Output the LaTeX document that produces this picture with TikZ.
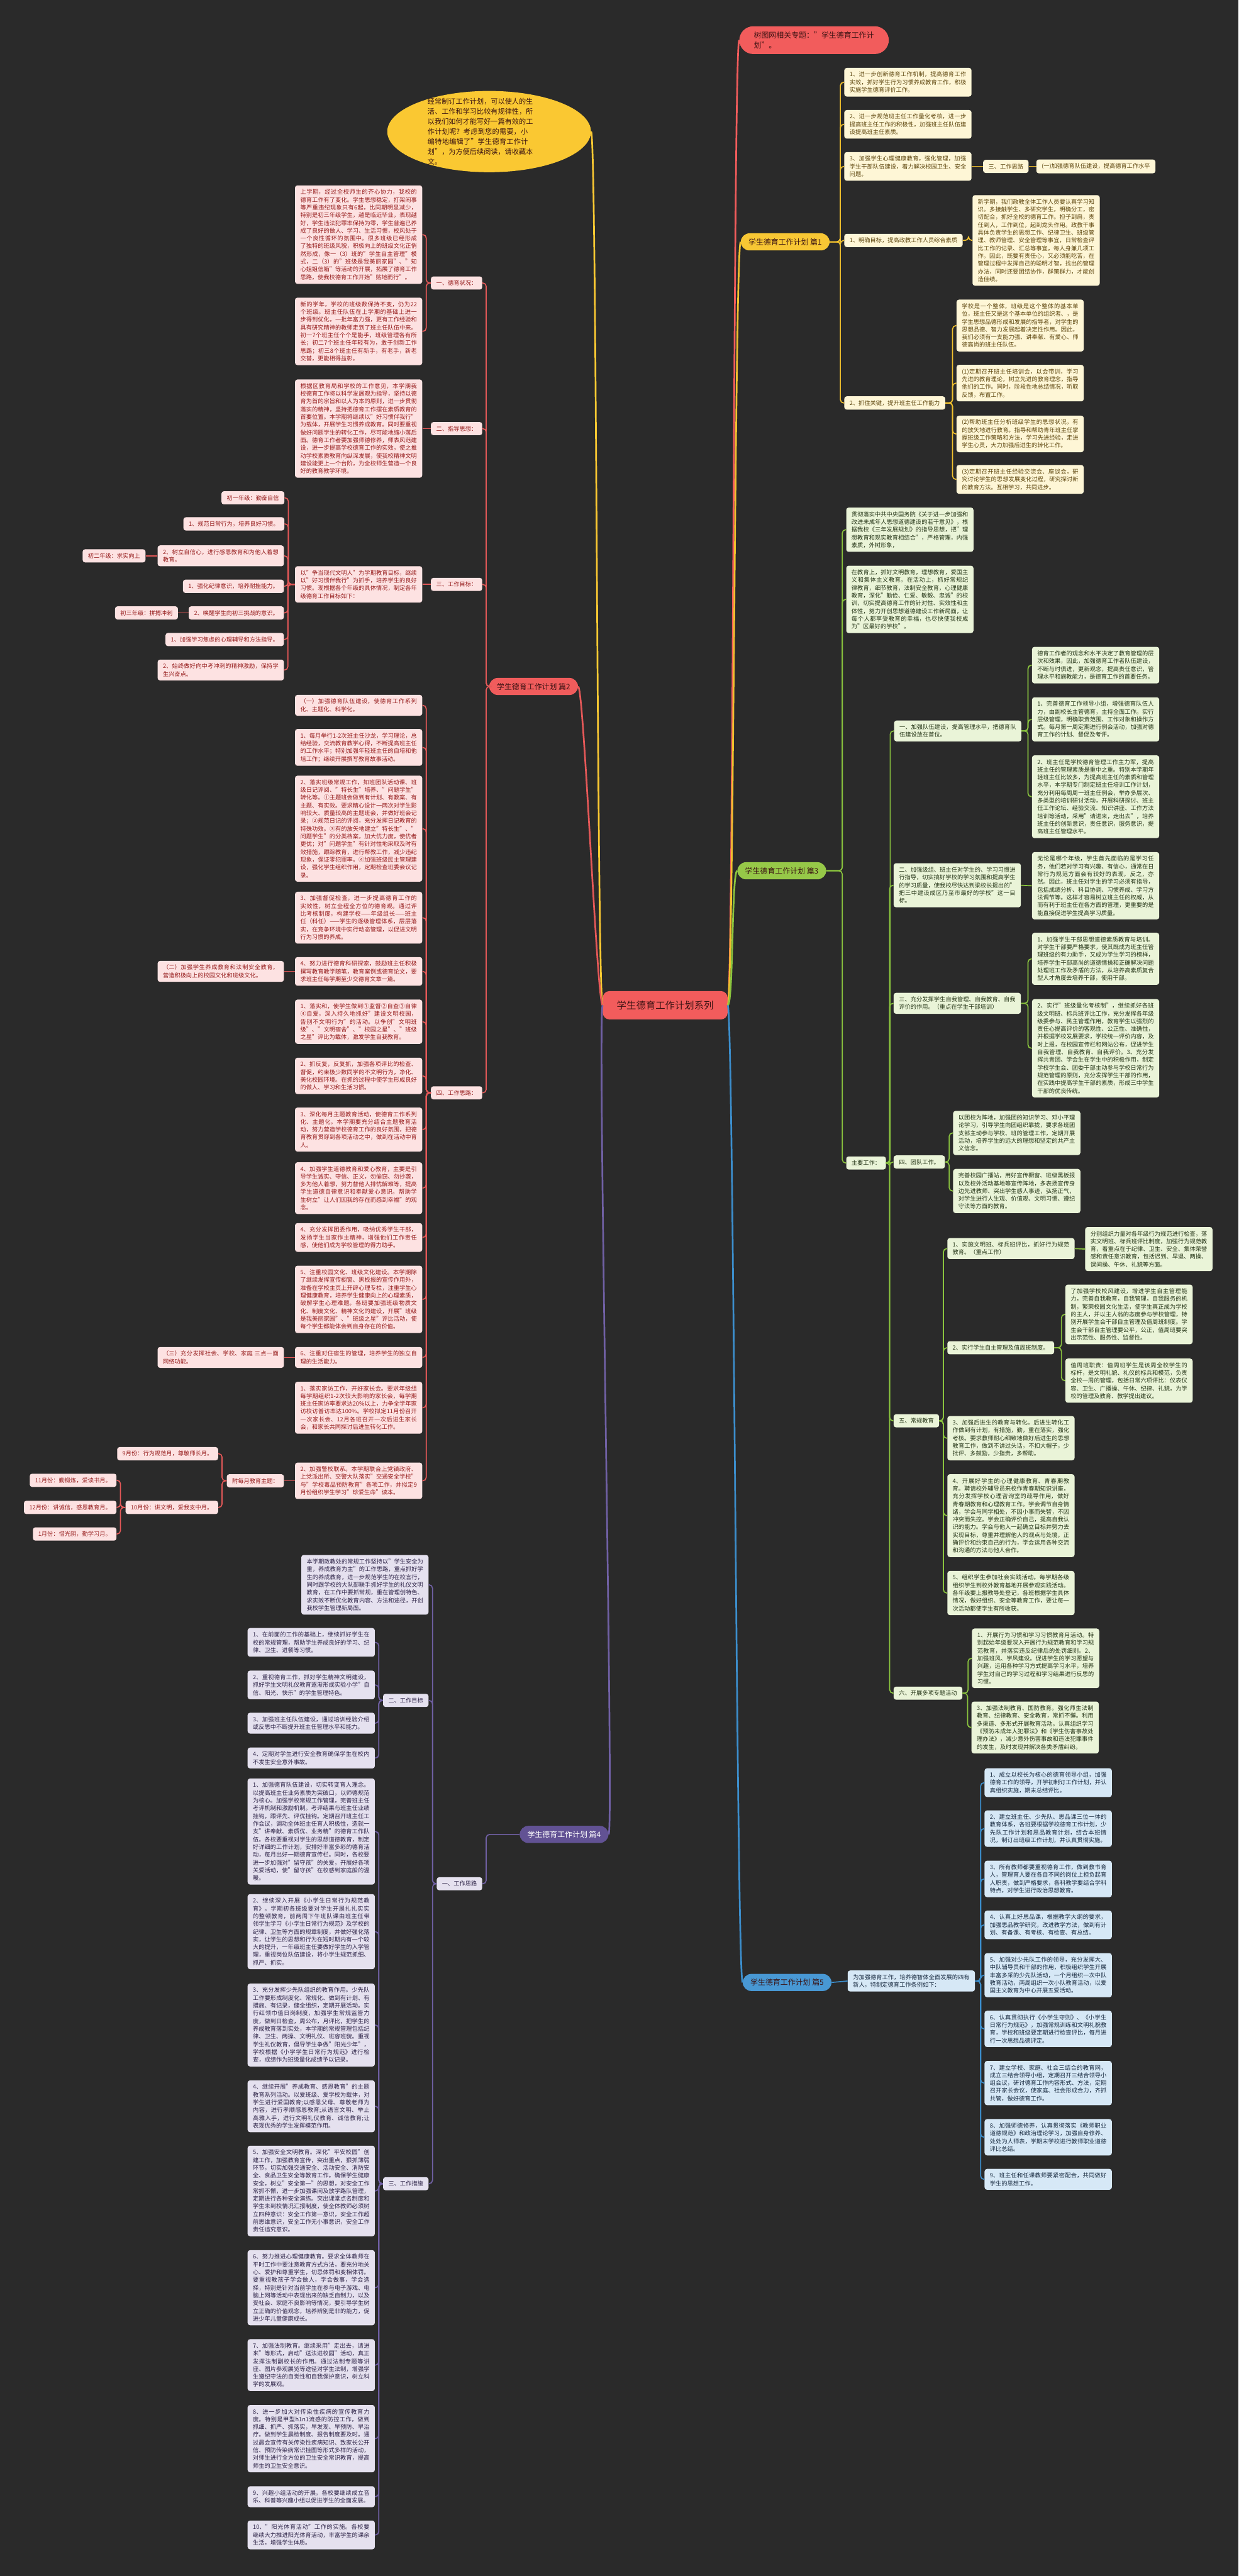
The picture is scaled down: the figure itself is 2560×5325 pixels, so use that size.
\documentclass[tikz,border=0pt]{standalone}
\usepackage{fontspec}
\setmainfont{Noto Sans CJK SC}
\XeTeXlinebreaklocale "zh"
\XeTeXlinebreakskip=0pt plus 1pt
\usetikzlibrary{shapes.geometric}

\definecolor{bgdark}{RGB}{42,42,42}
\definecolor{rootfill}{RGB}{242,92,92}
\definecolor{rootink}{RGB}{58,18,18}
\definecolor{introfill}{RGB}{250,200,50}
\definecolor{yelmain}{RGB}{248,199,52}
\definecolor{yelleaf}{RGB}{254,246,214}
\definecolor{yelink}{RGB}{92,68,12}
\definecolor{yelwire}{RGB}{240,192,46}
\definecolor{grnmain}{RGB}{150,200,72}
\definecolor{grnleaf}{RGB}{234,244,216}
\definecolor{grnink}{RGB}{36,52,22}
\definecolor{grnwire}{RGB}{138,196,62}
\definecolor{blumain}{RGB}{72,152,212}
\definecolor{bluleaf}{RGB}{214,232,246}
\definecolor{bluink}{RGB}{22,40,62}
\definecolor{bluwire}{RGB}{60,142,204}
\definecolor{redmain}{RGB}{240,92,92}
\definecolor{redleaf}{RGB}{253,226,226}
\definecolor{redink}{RGB}{150,28,28}
\definecolor{redwire}{RGB}{228,88,88}
\definecolor{purmain}{RGB}{98,82,148}
\definecolor{purleaf}{RGB}{229,225,239}
\definecolor{purink}{RGB}{46,36,72}
\definecolor{purwire}{RGB}{112,96,164}

\newcommand\fsz[2]{\fontsize{#1}{#2}\selectfont}

\begin{document}
\begin{tikzpicture}[x=1pt,y=-1pt,
  every node/.style={font=\fsz{12}{16}},
  root node/.style={rectangle,rounded corners=14pt,fill=rootfill,text=rootink,font=\fsz{20}{24},inner xsep=29pt,inner ysep=20pt},
  main node/.style={rectangle,rounded corners=18pt,text=rootink,font=\fsz{15.5}{20},inner xsep=16pt,inner ysep=10.5pt},
  leaf node/.style={rectangle,rounded corners=5pt,text width=241pt,align=justify,inner xsep=11pt,inner ysep=8pt},
  tag node/.style={rectangle,rounded corners=5pt,inner xsep=11pt,inner ysep=8pt},
  yelbox/.style={fill=yelleaf,text=yelink},
  grnbox/.style={fill=grnleaf,text=grnink},
  blubox/.style={fill=bluleaf,text=bluink},
  redbox/.style={fill=redleaf,text=redink},
  purbox/.style={fill=purleaf,text=purink},
  link/.style={line width=2.2pt,rounded corners=7pt},
  branch/.style={line width=3.5pt}]

  \fill[bgdark] (0,0) rectangle (2560,5325);
  \useasboundingbox (0,0) rectangle (2560,5325);

  % centre
  \node[root node] (root) at (1375,2078) {学生德育工作计划系列};

  % right side
  \node[main node,fill=rootfill,anchor=west,text width=249pt,inner xsep=30pt,inner ysep=11pt,rounded corners=29pt,font=\fsz{15.5}{21}] (tsw) at (1528,83) {树图网相关专题："学生德育工作计划"。};

  %% 篇1
  \node[main node,fill=yelmain,anchor=west] (p1) at (1531,500) {学生德育工作计划 篇1};
  \node[leaf node,yelbox,anchor=west] (pa1) at (1745,170) {1、进一步创新德育工作机制，提高德育工作实效，抓好学生行为习惯养成教育工作，积极实施学生德育评价工作。};
  \node[leaf node,yelbox,anchor=west] (pa2) at (1745,257) {2、进一步规范班主任工作量化考核，进一步提高班主任工作的积极性，加强班主任队伍建设提高班主任素质。};
  \node[leaf node,yelbox,anchor=west] (pa3) at (1745,344) {3、加强学生心理健康教育，强化管理，加强学生干部队伍建设，着力解决校园卫生、安全问题。};
  \node[tag node,yelbox,anchor=west] (pa3a) at (2032,344) {三、工作思路};
  \node[tag node,yelbox,anchor=west] (pa3b) at (2142,344) {(一)加强德育队伍建设，提高德育工作水平};
  \node[tag node,yelbox,anchor=west] (pa4) at (1745,497) {1、明确目标，提高政教工作人员综合素质};
  \node[leaf node,yelbox,anchor=west] (pa4a) at (2010,497) {新学期，我们政教全体工作人员要认真学习知识。多接触学生、多研究学生，明确分工，密切配合，抓好全校的德育工作。担子到肩，责任到人，工作到位，起到龙头作用。政教干事具体负责学生的思想工作、纪律卫生、班级管理、教师管理、安全管理等事宜，日常检查评比工作的记录、汇总等事宜，每人身兼几项工作。因此，既要有责任心，又必须能吃苦，在管理过程中发挥自己的聪明才智，找出的管理办法，同时还要团结协作，群策群力，才能创造佳绩。};
  \node[tag node,yelbox,anchor=west] (pa5) at (1745,833) {2、抓住关键，提升班主任工作能力};
  \node[leaf node,yelbox,anchor=west] (pa5a) at (1977,673) {学校是一个整体，班级是这个整体的基本单位，班主任又是这个基本单位的组织者、，是学生思想品德形成和发展的指导者，对学生的思想品德、智力发展起着决定性作用。因此，我们必须有一支能力强、讲奉献、有爱心、师德高尚的班主任队伍。};
  \node[leaf node,yelbox,anchor=west] (pa5b) at (1977,792) {(1)定期召开班主任培训会，以会带训，学习先进的教育理论，树立先进的教育理念，指导他们的工作。同时，阶段性地总结情况，听取反馈，布置工作。};
  \node[leaf node,yelbox,anchor=west] (pa5c) at (1977,897) {(2)帮助班主任分析班级学生的思想状况，有的放矢地进行教育。指导和帮助青年班主任掌握班级工作策略和方法，学习先进经验，走进学生心灵，大力加强后进生的转化工作。};
  \node[leaf node,yelbox,anchor=west] (pa5d) at (1977,991) {(3)定期召开班主任经验交流会、座谈会，研究讨论学生的思想发展变化过程，研究探讨新的教育方法。互相学习，共同进步。};

  %% 篇3
  \node[main node,fill=grnmain,anchor=west] (p3) at (1524,1800) {学生德育工作计划 篇3};
  \node[leaf node,grnbox,anchor=west] (pc1) at (1749,1095) {贯彻落实中共中央国务院《关于进一步加强和改进未成年人思想道德建设的若干意见》，根据我校《三年发展规划》的指导思想，把"理想教育和现实教育相结合"，严格管理，内强素质，外树形象，};
  \node[leaf node,grnbox,anchor=west] (pc2) at (1749,1239) {在教育上，抓好文明教育，理想教育，爱国主义和集体主义教育。在活动上，抓好常规纪律教育，细节教育，法制安全教育，心理健康教育，深化"勤俭、仁爱、敏毅、忠诚"的校训，切实提高德育工作的针对性、实效性和主体性，努力开创思想道德建设工作新局面，让每个人都享受教育的幸福，也尽快使我校成为"区最好的学校"。};
  \node[tag node,grnbox,anchor=west] (pcm) at (1749,2404) {主要工作：};
  \node[leaf node,grnbox,anchor=west] (pc3) at (1848,1511) {一、加强队伍建设，提高管理水平，把德育队伍建设放在首位。};
  \node[leaf node,grnbox,anchor=west] (pc3a) at (2133,1375) {德育工作者的观念和水平决定了教育管理的层次和效果，因此，加强德育工作者队伍建设，不断与时俱进，更新观念，提高责任意识，管理水平和施教能力，是德育工作的首要任务。};
  \node[leaf node,grnbox,anchor=west] (pc3b) at (2133,1487) {1、完善德育工作领导小组，增强德育队伍人力，由副校长主管德育，主持全面工作。实行层级管理，明确职责范围、工作对象和操作方式。每月第一周定期进行例会活动，加强对德育工作的计划、督促及考评。};
  \node[leaf node,grnbox,anchor=west] (pc3c) at (2133,1647) {2、班主任是学校德育管理工作主力军，提高班主任的管理素质是重中之重。特别本学期年轻班主任比较多，为提高班主任的素质和管理水平，本学期专门制定班主任培训工作计划，充分利用每周周一班主任例会，举办多层次、多类型的培训研讨活动，开展科研探讨、班主任工作论坛、经验交流、知识讲座、工作方法培训等活动，采用"请进来，走出去"，培养班主任的创新意识，责任意识，服务意识，提高班主任管理水平。};
  \node[leaf node,grnbox,anchor=west] (pc4) at (1847,1830) {二、加强级组、班主任对学生的、学习习惯进行指导，切实搞好学校的学习氛围和提高学生的学习质量，使我校尽快达到梁校长提出的"把三中建设成区乃至市最好的学校"这一目标。};
  \node[leaf node,grnbox,anchor=west] (pc4a) at (2133,1831) {无论是哪个年级，学生首先面临的是学习任务，他们若对学习有兴趣、有信心，通常在日常行为规范方面会有较好的表现，反之，亦然。因此，班主任对学生的学习必须有指导，包括成绩分析、科目协调、习惯养成、学习方法调节等。这样才容易树立班主任的权威，从而有利于班主任在各方面的管理，更重要的是能直接促进学生提高学习质量。};
  \node[leaf node,grnbox,anchor=west] (pc5) at (1847,2074) {三、充分发挥学生自我管理、自我教育、自我评价的作用。（重点在学生干部培训）};
  \node[leaf node,grnbox,anchor=west] (pc5a) at (2133,1982) {1、加强学生干部思想道德素质教育与培训。对学生干部要严格要求，使其既成为班主任管理班级的有力助手，又成为学生学习的榜样，培养学生干部高尚的道德情操和正确解决问题处理班工作及矛盾的方法，从培养高素质复合型人才角度去培养干部，使用干部。};
  \node[leaf node,grnbox,anchor=west] (pc5b) at (2133,2167) {2、实行"班级量化考核制"，继续抓好各班级文明班、标兵班评比工作，充分发挥各年级级委参与、民主管理作用，教育学生以强烈的责任心提高评价的客观性、公正性、准确性，并根据学校发展要求，学校统一评价内容，及时上报，在校园宣传栏和网站公布，促进学生自我管理、自我教育、自我评价。3、充分发挥共青团、学会生在学生中的积极作用，制定学校学生会、团委干部主动参与学校日常行为规范管理的原则，充分发挥学生干部的作用，在实践中提高学生干部的素质，形成三中学生干部的优良传统。};
  \node[tag node,grnbox,anchor=west] (pc6) at (1847,2402) {四、团队工作。};
  \node[leaf node,grnbox,anchor=west] (pc6a) at (1970,2342) {以团校为阵地，加强团的知识学习、邓小平理论学习，引导学生向团组织靠拢，要求各班团支部主动参与学校、班的管理工作，定期开展活动，培养学生的远大的理想和坚定的共产主义信念。};
  \node[leaf node,grnbox,anchor=west] (pc6b) at (1970,2462) {完善校园广播站，用好宣传橱窗、班级黑板报以及校外活动基地等宣传阵地，多表扬宣传身边先进教师、突出学生感人事迹，弘扬正气，对学生进行人生观、价值观、文明习惯、遵纪守法等方面的教育。};
  \node[tag node,grnbox,anchor=west] (pc7) at (1847,2937) {五、常规教育};
  \node[leaf node,grnbox,anchor=west] (pc7a) at (1958,2581) {1、实施文明班、标兵班评比，抓好行为规范教育。（重点工作）};
  \node[leaf node,grnbox,anchor=west] (pc7a1) at (2243,2582) {分别组织力量对各年级行为规范进行检查，落实文明班、标兵班评比制度，加强行为规范教育，着重点在于纪律、卫生、安全、集体荣誉感和责任意识教育，包括迟到、早退、两操、课间操、午休、礼貌等方面。};
  \node[tag node,grnbox,anchor=west] (pc7b) at (1958,2786) {2、实行学生自主管理及值周班制度。};
  \node[leaf node,grnbox,anchor=west] (pc7b1) at (2202,2717) {了加强学校校风建设，增进学生自主管理能力，完善自我教育，自我管理，自我服务的机制，繁荣校园文化生活，使学生真正成为学校的主人，并以主人翁的态度参与学校管理，特别开展学生会干部自主管理及值周班制度。学生会干部自主管理要公平，公正，值周班要突出示范性、服务性、监督性。};
  \node[leaf node,grnbox,anchor=west] (pc7b2) at (2202,2854) {值周班职责：值周班学生是该周全校学生的标杆，是文明礼貌、礼仪的标兵和模范，负责全校一周的管理，包括日常六项评比：仪表仪容、卫生、广播操、午休、纪律、礼貌，为学校的管理及教育、教学提出建议。};
  \node[leaf node,grnbox,anchor=west] (pc7c) at (1958,2973) {3、加强后进生的教育与转化。后进生转化工作做到有计划，有措施，勤，重在落实，强化考核。要求教师耐心细致地做好后进生的思想教育工作，做到不讲过头话，不扣大帽子，少批评、多鼓励，少指责，多帮助。};
  \node[leaf node,grnbox,anchor=west] (pc7d) at (1958,3133) {4、开展好学生的心理健康教育、青春期教育。聘请校外辅导员来校作青春期知识讲座，充分发挥学校心理咨询室的疏导作用，做好青春期教育和心理教育工作。学会调节自身情绪，学会与同学相处，不因小事而失智，不因冲突而失控。学会正确评价自己，提高自我认识的能力。学会与他人一起确立目标并努力去实现目标，尊重并理解他人的观点与处境，正确评价和约束自己的行为，学会运用各种交流和沟通的方法与他人合作。};
  \node[leaf node,grnbox,anchor=west] (pc7e) at (1958,3293) {5、组织学生参加社会实践活动。每学期各级组织学生到校外教育基地开展参观实践活动。各年级要上报教导处登记，各班根据学生具体情况，做好组织、安全等教育工作，要让每一次活动都使学生有所收获。};
  \node[tag node,grnbox,anchor=west] (pc8) at (1847,3500) {六、开展多项专题活动};
  \node[leaf node,grnbox,anchor=west] (pc8a) at (2009,3428) {1、开展行为习惯和学习习惯教育月活动。特别起始年级要深入开展行为规范教育和学习规范教育，并落实违反纪律后的处罚细则。2、加强班风、学风建设。促进学生的学习愿望与兴趣，运用各种学习方式提高学习水平，培养学生对自己的学习过程和学习结果进行反思的习惯。};
  \node[leaf node,grnbox,anchor=west] (pc8b) at (2008,3571) {3、加强法制教育、国防教育。强化师生法制教育、纪律教育、安全教育，常抓不懈。利用多渠道、多形式开展教育活动。认真组织学习《预防未成年人犯罪法》和《学生伤害事故处理办法》，减少意外伤害事故和违法犯罪事件的发生，及时发现并解决各类矛盾纠纷。};

  %% 篇5
  \node[main node,fill=blumain,anchor=west] (p5) at (1535,4098) {学生德育工作计划 篇5};
  \node[leaf node,blubox,anchor=west] (pd0) at (1752,4095) {为加强德育工作，培养德智体全面发展的四有新人，特制定德育工作条例如下：};
  \node[leaf node,blubox,anchor=west] (pd1) at (2035,3685) {1、成立以校长为核心的德育领导小组，加强德育工作的领导，开学初制订工作计划，并认真组织实施，期末总结评比。};
  \node[leaf node,blubox,anchor=west] (pd2) at (2035,3780) {2、建立班主任、少先队、思品课三位一体的教育体系，各班要根据学校德育工作计划，少先队工作计划和思品教育计划，结合本班情况，制订出班级工作计划，并认真贯彻实施。};
  \node[leaf node,blubox,anchor=west] (pd3) at (2035,3884) {3、所有教师都要重视德育工作，做到教书育人，管理育人要在各自不同的岗位上担负起育人职责，做到严格要求，各科教学要结合学科特点，对学生进行政治思想教育。};
  \node[leaf node,blubox,anchor=west] (pd4) at (2035,3979) {4、认真上好思品课，根据教学大纲的要求，加强思品教学研究，改进教学方法，做到有计划、有备课、有考核、有检查、有总结。};
  \node[leaf node,blubox,anchor=west] (pd5) at (2035,4083) {5、加强对少先队工作的领导，充分发挥大、中队辅导员和干部的作用，积极组织学生开展丰富多采的少先队活动，一个月组织一次中队教育活动，两周组织一次小队教育活动，以爱国主义教育为中心开展五爱活动。};
  \node[leaf node,blubox,anchor=west] (pd6) at (2035,4194) {6、认真贯彻执行《小学生守则》、《小学生日常行为规范》，加强常规训练和文明礼貌教育，学校和班级要定期进行检查评比，每月进行一次思想品德评定。};
  \node[leaf node,blubox,anchor=west] (pd7) at (2035,4306) {7、建立学校、家庭、社会三结合的教育网，成立三结合领导小组，定期召开三结合领导小组会议，研讨德育工作内容形式、方法，定期召开家长会议，使家庭、社会形成合力，齐抓共管，做好德育工作。};
  \node[leaf node,blubox,anchor=west] (pd8) at (2035,4418) {8、加强师德修养，认真贯彻落实《教师职业道德规范》和政治理论学习，加强自身修养、处处为人师表，学期末学校进行教师职业道德评比总结。};
  \node[leaf node,blubox,anchor=west] (pd9) at (2035,4505) {9、班主任和任课教师要紧密配合，共同做好学生的思想工作。};

  % left side
  \node[ellipse,fill=introfill,minimum width=421pt,minimum height=168pt,inner sep=0pt] (intro) at (1011,272) {};
  \node[text width=218pt,align=left,text=rootink,font=\fsz{14.5}{21}] (introtxt) at (993,272) {经常制订工作计划，可以使人的生活、工作和学习比较有规律性，所以我们如何才能写好一篇有效的工作计划呢？考虑到您的需要，小编特地编辑了"学生德育工作计划"，为方便后续阅读，请收藏本文。};

  %% 篇2
  \node[main node,fill=redmain,anchor=east] (p2) at (1195,1419) {学生德育工作计划 篇2};
  \node[tag node,redbox,anchor=east] (f1) at (997,585) {一、德育状况：};
  \node[leaf node,redbox,anchor=east] (f1a) at (873,485) {上学期，经过全校师生的齐心协力，我校的德育工作有了变化。学生思想稳定，打架闹事等严重违纪现象只有6起，比同期明显减少，特别是初三年级学生，越是临近毕业，表现越好，学生违法犯罪率保持为零，学生普遍已养成了良好的做人、学习、生活习惯，校风处于一个良性循环的氛围中。很多班级已经形成了独特的班级风貌，积极向上的班级文化正悄然形成，像一（3）班的"学生自主管理"模式，二（3）的"班级是我美丽家园"、"知心姐姐信箱"等活动的开展，拓展了德育工作思路，使我校德育工作开始"贴地而行"。};
  \node[leaf node,redbox,anchor=east] (f1b) at (873,685) {新的学年，学校的班级数保持不变，仍为22个班级。班主任队伍在上学期的基础上进一步得到优化，一批年富力强，更有工作经验和具有研究精神的教师走到了班主任队伍中来。初一7个班主任个个是能手，班级管理各有所长；初二7个班主任年轻有为，敢于创新工作思路；初三8个班主任有新手，有老手，新老交替，更能相得益彰。};
  \node[tag node,redbox,anchor=east] (f2) at (997,886) {二、指导思想：};
  \node[leaf node,redbox,anchor=east] (f2a) at (873,886) {根据区教育局和学校的工作意见，本学期我校德育工作将以科学发展观为指导，坚持以德育为首的宗旨和以人为本的原则，进一步贯彻落实的精神，坚持把德育工作摆在素质教育的首要位置。本学期将继续以"好习惯伴我行"为载体，开展学生习惯养成教育。同时要重视做好问题学生的转化工作，尽可能地缩小落后面。德育工作者要加强师德修养，师表风范建设，进一步提高学校德育工作的实效，使之推动学校素质教育向纵深发展，使我校精神文明建设能更上一个台阶，为全校师生营造一个良好的教育教学环境。};
  \node[tag node,redbox,anchor=east] (f3) at (997,1208) {三、工作目标：};
  \node[leaf node,redbox,anchor=east] (f3a) at (873,1208) {以"争当现代文明人"为学期教育目标，继续以"好习惯伴我行"为抓手，培养学生的良好习惯。现根据各个年级的具体情况，制定各年级德育工作目标如下：};
  \node[tag node,redbox,anchor=east] (g1) at (588,1029) {初一年级：勤奋自信};
  \node[tag node,redbox,anchor=east] (g2) at (588,1083) {1、规范日常行为，培养良好习惯。};
  \node[leaf node,redbox,anchor=east,text width=239pt] (g3) at (587,1149) {2、树立自信心，进行感恩教育和为他人着想教育。};
  \node[tag node,redbox,anchor=east] (g3a) at (301,1149) {初二年级：求实向上};
  \node[tag node,redbox,anchor=east] (g4) at (587,1212) {1、强化纪律意识，培养耐挫能力。};
  \node[tag node,redbox,anchor=east] (g5) at (587,1267) {2、唤醒学生向初三挑战的意识。};
  \node[tag node,redbox,anchor=east] (g5a) at (368,1267) {初三年级：拼搏冲刺};
  \node[tag node,redbox,anchor=east] (g6) at (587,1322) {1、加强学习焦虑的心理辅导和方法指导。};
  \node[leaf node,redbox,anchor=east,text width=239pt] (g7) at (587,1385) {2、始终做好向中考冲刺的精神激励，保持学生兴奋点。};
  \node[tag node,redbox,anchor=east] (f4) at (997,2259) {四、工作思路：};
  \node[leaf node,redbox,anchor=east] (fs1) at (873,1458) {（一）加强德育队伍建设，使德育工作系列化、主题化、科学化。};
  \node[leaf node,redbox,anchor=east] (fs2) at (873,1545) {1、每月举行1-2次班主任沙龙，学习理论，总结经验，交流教育教学心得，不断提高班主任的工作水平；特别加强年轻班主任的自培和他培工作；继续开展撰写教育故事活动。};
  \node[leaf node,redbox,anchor=east] (fs3) at (873,1713) {2、落实班级常规工作，如班团队活动课、班级日记评阅、"特长生"培养、"问题学生"转化等。①主题班会做到有计划、有教案、有主题、有实效。要求精心设计一两次对学生影响较大、质量较高的主题班会，并做好班会记录；②规范日记的评阅，充分发挥日记教育的特殊功效。③有的放矢地建立"特长生"、"问题学生"的分类档案，加大优力度，使优者更优；对"问题学生"有针对性地采取及时有效措施，跟踪教育，进行帮教工作，减少违纪现象，保证零犯罪率。④加强班级民主管理建设，强化学生组织作用，定期检查班委会议记录。};
  \node[leaf node,redbox,anchor=east] (fs4) at (873,1897) {3、加强督促检查，进一步提高德育工作的实效性，树立全程全方位的德育观。通过评比考核制度，构建学校——年级组长——班主任（科任）——学生的逐级管理体系，层层落实，在竞争环境中实行动态管理，以促进文明行为习惯的养成。};
  \node[leaf node,redbox,anchor=east] (fs5) at (873,2008) {4、努力进行德育科研探索，鼓励班主任积极撰写教育教学随笔，教育案例或德育论文，要求班主任每学期至少交德育文章一篇。};
  \node[leaf node,redbox,anchor=east,text width=239pt] (fs5a) at (587,2008) {（二）加强学生养成教育和法制安全教育，营造积极向上的校园文化和班级文化。};
  \node[leaf node,redbox,anchor=east] (fs6) at (873,2112) {1、落实和，使学生做到①监督②自查③自律④自爱，深入持久地抓好"建设文明校园，告别不文明行为"的活动。以争创"文明班级"、"文明宿舍"、"校园之星"、"班级之星"评比为载体，激发学生自我教育。};
  \node[leaf node,redbox,anchor=east] (fs7) at (873,2224) {2、抓反复，反复抓，加强各项评比的检查、督促，约束极少数同学的不文明行为，净化、美化校园环境。在抓的过程中使学生形成良好的做人、学习和生活习惯。};
  \node[leaf node,redbox,anchor=east] (fs8) at (873,2335) {3、深化每月主题教育活动，使德育工作系列化、主题化。本学期要充分结合主题教育活动，努力营造学校德育工作的良好氛围，把德育教育贯穿到各项活动之中，做到在活动中育人。};
  \node[leaf node,redbox,anchor=east] (fs9) at (873,2456) {4、加强学生道德教育和爱心教育，主要是引导学生诚实、守信、正义，勿偷窃、勿抄袭，多为他人着想，努力替他人排忧解难等，提高学生道德自律意识和奉献爱心意识。帮助学生树立"让人们因我的存在而感到幸福"的观念。};
  \node[leaf node,redbox,anchor=east] (fs10) at (873,2558) {4、充分发挥团委作用，吸纳优秀学生干部，发扬学生当家作主精神，增强他们工作责任感，使他们成为学校管理的得力助手。};
  \node[leaf node,redbox,anchor=east] (fs11) at (873,2686) {5、注重校园文化、班级文化建设。本学期除了继续发挥宣传橱窗、黑板报的宣传作用外，准备在学校主页上开辟心理专栏，注重学生心理健康教育，培养学生健康向上的心理素质，破解学生心理难题。各班要加强班级物质文化、制度文化、精神文化的建设，开展"班级是我美丽家园"、"班级之星"评比活动，使每个学生都能体会到自身存在的价值。};
  \node[leaf node,redbox,anchor=east] (fs12) at (873,2806) {6、注重对住宿生的管理，培养学生的独立自理的生活能力。};
  \node[leaf node,redbox,anchor=east,text width=239pt] (fs12a) at (587,2806) {（三）充分发挥社会、学校、家庭 三点一面网络功能。};
  \node[leaf node,redbox,anchor=east] (fs13) at (873,2910) {1、落实家访工作，开好家长会。要求年级组每学期组织1-2次较大影响的家长会，每学期班主任家访率要求达20\%以上，力争全学年家访校访普访率达100\%。学校拟定11月份召开一次家长会、12月各班召开一次后进生家长会，和家长共同探讨后进生转化工作。};
  \node[leaf node,redbox,anchor=east] (fs14) at (873,3061) {2、加强警校联系。本学期联合上党镇政府、上党派出所、交警大队落实"交通安全学校"与"学校毒品预防教育"各项工作，并拟定9月份组织学生学习"珍爱生命"读本。};
  \node[tag node,redbox,anchor=east] (fs14a) at (587,3061) {附每月教育主题：};
  \node[tag node,redbox,anchor=east] (m9) at (451,3005) {9月份：行为规范月，尊敬师长月。};
  \node[tag node,redbox,anchor=east] (m10) at (451,3116) {10月份：讲文明，爱我支中月。};
  \node[tag node,redbox,anchor=east] (m11) at (241,3060) {11月份：勤锻炼，爱读书月。};
  \node[tag node,redbox,anchor=east] (m12) at (241,3116) {12月份：讲诚信，感恩教育月。};
  \node[tag node,redbox,anchor=east] (m1) at (241,3171) {1月份：惜光阴，勤学习月。};

  %% 篇4
  \node[main node,fill=purmain,text=white,anchor=east] (p4) at (1258,3792) {学生德育工作计划 篇4};
  \node[tag node,purbox,anchor=east] (q0) at (997,3894) {一、工作思路};
  \node[leaf node,purbox,anchor=east] (q1) at (886,3276) {本学期政教处的常规工作坚持以"学生安全为重，养成教育为主"的工作思路，重点抓好学生的养成教育，进一步规范学生的在校言行，同时跟学校的大队部联手抓好学生的礼仪文明教育，在工作中要抓常规，重在管理创特色、求实效不断优化教育内容、方法和途径，开创我校学生管理新局面。};
  \node[tag node,purbox,anchor=east] (q2) at (886,3515) {二、工作目标};
  \node[leaf node,purbox,anchor=east] (q2a) at (775,3395) {1、在前面的工作的基础上，继续抓好学生在校的常规管理，帮助学生养成良好的学习、纪律、卫生、进餐等习惯。};
  \node[leaf node,purbox,anchor=east] (q2b) at (775,3483) {2、重视德育工作，抓好学生精神文明建设，抓好学生文明礼仪教育逐渐形成实验小学"自信、阳光、快乐"的学生管理特色。};
  \node[leaf node,purbox,anchor=east] (q2c) at (775,3562) {3、加强班主任队伍建设，通过培训经验介绍或反思中不断提升班主任管理水平和能力。};
  \node[leaf node,purbox,anchor=east] (q2d) at (775,3634) {4、定期对学生进行安全教育确保学生在校内不发生安全意外事故。};
  \node[tag node,purbox,anchor=east] (q3) at (886,4514) {三、工作措施};
  \node[leaf node,purbox,anchor=east] (q3a) at (775,3786) {1、加强德育队伍建设，切实转变育人理念。以提高班主任业务素质为突破口，以师德规范为核心。加强学校常规工作管理，完善班主任考评机制和激励机制。考评结果与班主任业绩挂钩，跟评先、评优挂钩。定期召开班主任工作会议，调动全体班主任育人积极性，造就一支"讲奉献、素质优、业务精"的德育工作队伍。各校要重视对学生的思想道德教育，制定好详细的工作计划，安排好丰富多彩的德育活动，每月出好一期德育宣传栏。同时，各校要进一步加强对"留守孩"的关爱，开展好各项关爱活动，使"留守孩"在校感到家庭般的温暖。};
  \node[leaf node,purbox,anchor=east] (q3b) at (775,3993) {2、继续深入开展《小学生日常行为规范教育》。学期初各班级要对学生开展扎扎实实的整顿教育，前两周下午班队课由班主任带领学生学习《小学生日常行为规范》及学校的纪律、卫生等方面的规章制度，并做好强化落实，让学生的思想和行为在短时期内有一个较大的提升，一年级班主任要做好学生的入学管理，重视岗位队伍建设，将小学生规范抓细、抓严、抓实。};
  \node[leaf node,purbox,anchor=east] (q3c) at (775,4186) {3、充分发挥少先队组织的教育作用。少先队工作要形成制度化、常规化、做到有计划、有措施、有记录，健全组织，定期开展活动。实行红领巾值日岗制度，加强学生常规监管力度，做到日检查，周公布，月评比，把学生的养成教育落到实处，本学期的常规管理包括纪律、卫生、两操、文明礼仪、班容班貌。重视学生礼仪教育，倡导学生争做"阳光少年"，学校根据《小学学生日常行为规范》进行检查，成绩作为班级量化成绩予以记录。};
  \node[leaf node,purbox,anchor=east] (q3d) at (775,4354) {4、继续开展"养成教育、感恩教育"的主题教育系列活动。以爱班级、爱学校为载体，对学生进行爱国教育;以感恩父母、尊敬老师为内容，进行孝顺感恩教育;从语言文明、举止高雅入手，进行文明礼仪教育、诚信教育;让表现优秀的学生发挥模范作用。};
  \node[leaf node,purbox,anchor=east] (q3e) at (775,4529) {5、加强安全文明教育。深化"平安校园"创建工作，加强教育宣传，突出重点，狠抓薄弱环节，切实加强交通安全、活动安全、消防安全、食品卫生安全等教育工作。确保学生健康安全，树立"安全第一"的思想，对安全工作常抓不懈，进一步加强课间及放学路队管理，定期进行各种安全演练。突出课堂点名制度和学生未到校情况汇报制度，使全体教师必须树立四种意识：安全工作第一意识，安全工作超前思维意识，安全工作无小事意识，安全工作责任追究意识。};
  \node[leaf node,purbox,anchor=east] (q3f) at (775,4729) {6、努力推进心理健康教育。要求全体教师在平时工作中要注意教育方式方法，要充分地关心、爱护和尊重学生，切忌体罚和变相体罚。要重视教孩子学会做人，学会做事，学会选择，特别是针对当前学生在参与电子游戏、电脑上网等活动中表现出来的缺乏自制力，以及受社会、家庭不良影响等情况，要引导学生树立正确的价值观念，培养辨别是非的能力，促进少年儿童健康成长。};
  \node[leaf node,purbox,anchor=east] (q3g) at (775,4889) {7、加强法制教育。继续采用"走出去，请进来"等形式，启动"送法进校园"活动，真正发挥法制副校长的作用。通过法制专题等讲座、图片参观展览等途径对学生法制，增强学生遵纪守法的自觉性和自我保护意识，树立科学的发展观。};
  \node[leaf node,purbox,anchor=east] (q3h) at (775,5041) {8、进一步加大对传染性疾病的宣传教育力度。特别是甲型h1n1流感的防控工作，做到抓细、抓严、抓落实，早发现、早预防、早治疗。做到学生晨检制度、报告制度要及时。通过晨会宣传有关传染性疾病知识、致家长公开信、预防传染病常识挂图等形式多样的活动，对师生进行全方位的卫生安全常识教育，提高师生的卫生安全意识。};
  \node[leaf node,purbox,anchor=east] (q3i) at (775,5161) {9、兴趣小组活动的开展。各校要继续成立音乐、科普等兴趣小组以促进学生的全面发展。};
  \node[leaf node,purbox,anchor=east] (q3j) at (775,5240) {10、"阳光体育活动"工作的实施。各校要继续大力推进阳光体育活动，丰富学生的课余生活，增强学生体质。};

  % main branches
  \draw[branch,rootfill] (root.east) .. controls +(12,0) and +(-12,0) .. (tsw.west);
  \draw[branch,yelwire] (root.east) .. controls +(12,0) and +(-12,0) .. (p1.west);
  \draw[branch,grnwire] (root.east) .. controls +(12,0) and +(-12,0) .. (p3.west);
  \draw[branch,bluwire] (root.east) .. controls +(12,0) and +(-12,0) .. (p5.west);
  \draw[branch,introfill] (root.west) .. controls +(-12,0) and +(12,0) .. (intro.east);
  \draw[branch,redwire] (root.west) .. controls +(-12,0) and +(12,0) .. (p2.east);
  \draw[branch,purwire] (root.west) .. controls +(-12,0) and +(12,0) .. (p4.east);

  % right links
  \foreach \c in {pa1,pa2,pa3,pa4,pa5}
    \draw[link,yelwire] (p1.east) -| ([xshift=-8pt]\c.west) -- (\c.west);
  \draw[link,yelwire] (pa3.east) -- (pa3a.west);
  \draw[link,yelwire] (pa3a.east) -- (pa3b.west);
  \draw[link,yelwire] (pa4.east) -| ([xshift=-8pt]pa4a.west) -- (pa4a.west);
  \foreach \c in {pa5a,pa5b,pa5c,pa5d}
    \draw[link,yelwire] (pa5.east) -| ([xshift=-8pt]\c.west) -- (\c.west);

  \foreach \c in {pc1,pc2,pcm}
    \draw[link,grnwire] (p3.east) -| ([xshift=-8pt]\c.west) -- (\c.west);
  \foreach \c in {pc3,pc4,pc5,pc6,pc7,pc8}
    \draw[link,grnwire] (pcm.east) -| ([xshift=-8pt]\c.west) -- (\c.west);
  \foreach \c in {pc3a,pc3b,pc3c}
    \draw[link,grnwire] (pc3.east) -| ([xshift=-8pt]\c.west) -- (\c.west);
  \draw[link,grnwire] (pc4.east) -- (pc4a.west);
  \foreach \c in {pc5a,pc5b}
    \draw[link,grnwire] (pc5.east) -| ([xshift=-8pt]\c.west) -- (\c.west);
  \foreach \c in {pc6a,pc6b}
    \draw[link,grnwire] (pc6.east) -| ([xshift=-8pt]\c.west) -- (\c.west);
  \foreach \c in {pc7a,pc7b,pc7c,pc7d,pc7e}
    \draw[link,grnwire] (pc7.east) -| ([xshift=-8pt]\c.west) -- (\c.west);
  \draw[link,grnwire] (pc7a.east) -- (pc7a1.west);
  \foreach \c in {pc7b1,pc7b2}
    \draw[link,grnwire] (pc7b.east) -| ([xshift=-8pt]\c.west) -- (\c.west);
  \foreach \c in {pc8a,pc8b}
    \draw[link,grnwire] (pc8.east) -| ([xshift=-8pt]\c.west) -- (\c.west);

  \draw[link,bluwire] (p5.east) -- (pd0.west);
  \foreach \c in {pd1,pd2,pd3,pd4,pd5,pd6,pd7,pd8,pd9}
    \draw[link,bluwire] (pd0.east) -| ([xshift=-8pt]\c.west) -- (\c.west);

  % left links
  \foreach \c in {f1,f2,f3,f4}
    \draw[link,redwire] (p2.west) -| ([xshift=8pt]\c.east) -- (\c.east);
  \foreach \c in {f1a,f1b}
    \draw[link,redwire] (f1.west) -| ([xshift=8pt]\c.east) -- (\c.east);
  \draw[link,redwire] (f2.west) -- (f2a.east);
  \draw[link,redwire] (f3.west) -- (f3a.east);
  \foreach \c in {g1,g2,g3,g4,g5,g6,g7}
    \draw[link,redwire] (f3a.west) -| ([xshift=8pt]\c.east) -- (\c.east);
  \draw[link,redwire] (g3.west) -- (g3a.east);
  \draw[link,redwire] (g5.west) -- (g5a.east);
  \foreach \c in {fs1,fs2,fs3,fs4,fs5,fs6,fs7,fs8,fs9,fs10,fs11,fs12,fs13,fs14}
    \draw[link,redwire] (f4.west) -| ([xshift=8pt]\c.east) -- (\c.east);
  \draw[link,redwire] (fs5.west) -- (fs5a.east);
  \draw[link,redwire] (fs12.west) -- (fs12a.east);
  \draw[link,redwire] (fs14.west) -- (fs14a.east);
  \foreach \c in {m9,m10}
    \draw[link,redwire] (fs14a.west) -| ([xshift=8pt]\c.east) -- (\c.east);
  \foreach \c in {m11,m12,m1}
    \draw[link,redwire] (m10.west) -| ([xshift=8pt]\c.east) -- (\c.east);

  \draw[link,purwire] (p4.west) -| ([xshift=8pt]q0.east) -- (q0.east);
  \foreach \c in {q1,q2,q3}
    \draw[link,purwire] (q0.west) -| ([xshift=8pt]\c.east) -- (\c.east);
  \foreach \c in {q2a,q2b,q2c,q2d}
    \draw[link,purwire] (q2.west) -| ([xshift=8pt]\c.east) -- (\c.east);
  \foreach \c in {q3a,q3b,q3c,q3d,q3e,q3f,q3g,q3h,q3i,q3j}
    \draw[link,purwire] (q3.west) -| ([xshift=8pt]\c.east) -- (\c.east);
\end{tikzpicture}
\end{document}
